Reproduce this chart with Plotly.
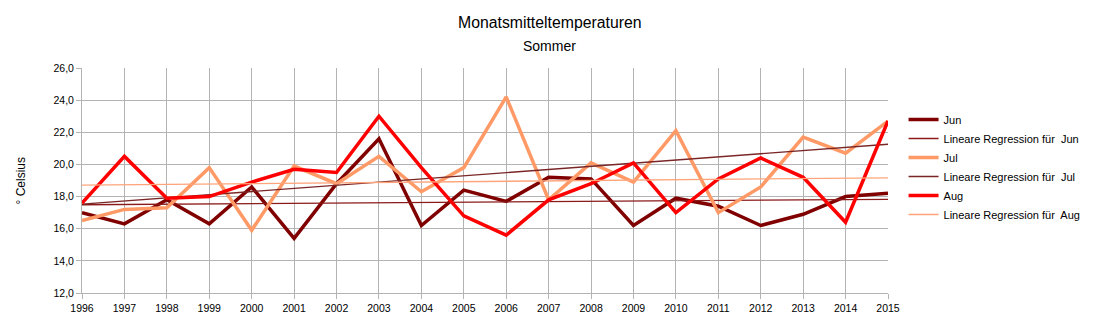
import numpy as np
import plotly.graph_objects as go

# Summer monthly mean temperatures (°C), 1996-2015
years = list(range(1996, 2016))
jun = [17.0, 16.3, 17.8, 16.3, 18.6, 15.4, 18.8, 21.6, 16.2, 18.4,
       17.7, 19.2, 19.1, 16.2, 17.9, 17.4, 16.2, 16.9, 18.0, 18.2]
jul = [16.5, 17.2, 17.3, 19.8, 15.9, 19.9, 18.8, 20.5, 18.3, 19.8,
       24.2, 17.8, 20.1, 18.9, 22.1, 17.0, 18.6, 21.7, 20.7, 22.7]
aug = [17.6, 20.5, 17.9, 18.0, 18.9, 19.7, 19.5, 23.0, 19.8, 16.8,
       15.6, 17.8, 18.8, 20.1, 17.0, 19.1, 20.4, 19.2, 16.4, 22.7]

y_ticks = [12, 14, 16, 18, 20, 22, 24, 26]

series = [
    ("Jun", jun, "#800000", "#8b1a1a"),
    ("Jul", jul, "#ff9966", "#7a2626"),
    ("Aug", aug, "#ff0000", "#ffa47a"),
]

font = "Liberation Sans, Arial, sans-serif"

fig = go.Figure()
x = np.array(years, dtype=float)
for name, vals, col, reg_col in series:
    fig.add_trace(go.Scatter(
        x=years, y=vals, name=name, mode="lines",
        line=dict(color=col, width=3.5),
    ))
    # least-squares trend line for this month
    slope, icpt = np.polyfit(x, np.array(vals), 1)
    fig.add_trace(go.Scatter(
        x=years, y=list(slope * x + icpt),
        name="Lineare Regression für\u00a0 " + name, mode="lines",
        line=dict(color=reg_col, width=1.3),
    ))

fig.update_layout(
    width=1100, height=333,
    margin=dict(l=82, r=212, t=68, b=40),
    paper_bgcolor="white", plot_bgcolor="white",
    separators=",.",
    font=dict(family=font, size=11, color="#000000"),
    showlegend=True,
    legend=dict(
        x=1.0193, xanchor="left", y=0.56, yanchor="middle",
        font=dict(family=font, size=11, color="#000000"),
        bgcolor="rgba(0,0,0,0)", tracegroupgap=0,
    ),
    annotations=[
        dict(text="Monatsmitteltemperaturen", xref="paper", yref="paper",
             x=0.5806, y=1.2013, xanchor="center", yanchor="middle",
             showarrow=False, font=dict(family=font, size=15.8)),
        dict(text="Sommer", xref="paper", yref="paper",
             x=0.5806, y=1.0964, xanchor="center", yanchor="middle",
             showarrow=False, font=dict(family=font, size=14)),
        dict(text="° Celsius", xref="paper", yref="paper",
             x=-0.0757, y=0.5, xanchor="center", yanchor="middle",
             textangle=-90, showarrow=False, font=dict(family=font, size=12)),
    ],
)

fig.update_xaxes(
    range=[1996, 2015], tickmode="array", tickvals=years,
    ticktext=[str(y) for y in years],
    showgrid=True, gridcolor="#b3b3b3", gridwidth=1,
    showline=True, linecolor="#b3b3b3", linewidth=1,
    ticks="outside", ticklen=5, tickcolor="#b3b3b3",
    zeroline=False, tickfont=dict(family=font, size=10.5),
)
fig.update_yaxes(
    range=[12, 26], tickmode="array", tickvals=y_ticks,
    tickformat=".1f",
    showgrid=True, gridcolor="#b3b3b3", gridwidth=1,
    showline=True, linecolor="#b3b3b3", linewidth=1,
    ticks="outside", ticklen=5, tickcolor="#b3b3b3",
    zeroline=False, tickfont=dict(family=font, size=10.5),
)

fig.write_html("out.html")
